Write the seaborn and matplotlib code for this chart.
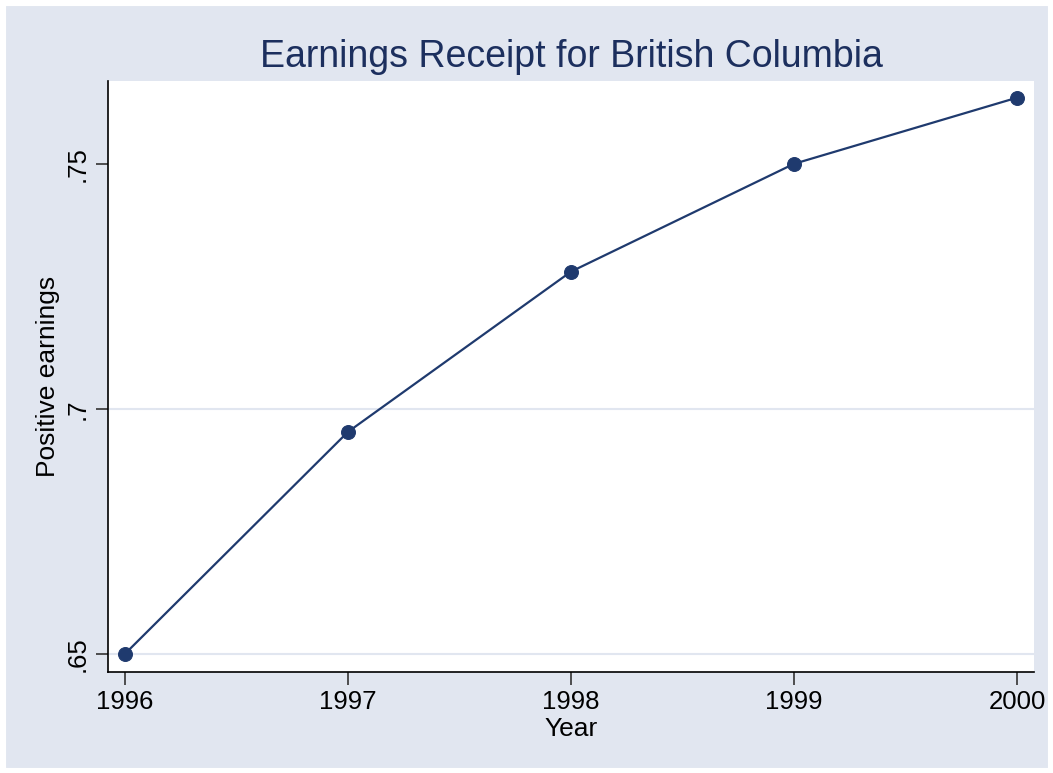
import matplotlib
matplotlib.use("Agg")
import matplotlib.pyplot as plt
import seaborn as sns
import pandas as pd
from matplotlib.patches import Rectangle

years = [1996, 1997, 1998, 1999, 2000]
positive_earnings = [0.650, 0.6953, 0.728, 0.750, 0.7635]
ytick_values = [0.65, 0.70, 0.75]
ytick_labels = [".65", ".7", ".75"]

df = pd.DataFrame({"Year": years, "Positive earnings": positive_earnings})

sns.set_style("white")
plt.rcParams['font.family'] = ['Liberation Sans', 'DejaVu Sans']
plt.rcParams['text.color'] = 'black'
plt.rcParams['axes.labelcolor'] = 'black'
plt.rcParams['xtick.color'] = 'black'
plt.rcParams['ytick.color'] = 'black'

bg = "#E1E6F0"
navy = "#1F3A6E"

fig = plt.figure(figsize=(10.53, 7.73), dpi=100, facecolor=bg)
fig.patches.append(Rectangle((0, 0), 1, 1, transform=fig.transFigure,
                             fill=False, edgecolor="white", linewidth=8, zorder=10))
ax = fig.add_axes([108/1053, 1-672/773, (1034-108)/1053, (672-81)/773])
ax.set_facecolor("white")

sns.lineplot(data=df, x="Year", y="Positive earnings", ax=ax, color=navy,
             marker="o", markersize=10, markeredgecolor=navy, linewidth=1.6)

ax.set_xlim(1996 - 0.076, 2000 + 0.076)
ax.set_ylim(0.6463, 0.7669)
ax.set_xticks(years)
ax.set_xticklabels([str(y) for y in years], fontsize=18.5)
ax.set_yticks(ytick_values)
ax.set_yticklabels(ytick_labels, fontsize=18.5, rotation=90, va="center")

for v in ytick_values[:-1]:
    ax.axhline(v, color=bg, linewidth=1.5, zorder=0)

for s in ["top", "right"]:
    ax.spines[s].set_visible(False)
for s in ["left", "bottom"]:
    ax.spines[s].set_color("black")
    ax.spines[s].set_linewidth(1.2)

ax.tick_params(axis="both", direction="out", length=9, width=1.2, color="#333333",
               bottom=True, left=True, pad=4)

ax.set_xlabel("Year", fontsize=19, labelpad=2)
ax.set_ylabel("Positive earnings", fontsize=19, labelpad=4)
ax.set_title("Earnings Receipt for British Columbia", fontsize=27, color="#1C2F5E", pad=10)

fig.savefig("out.png", dpi=100, facecolor=bg)
